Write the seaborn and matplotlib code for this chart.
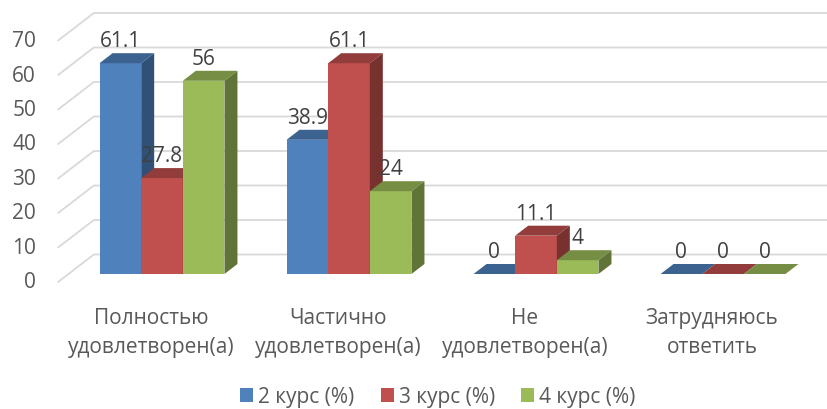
import numpy as np
import pandas as pd
import seaborn as sns
import matplotlib.pyplot as plt
from matplotlib.patches import Polygon, Patch
from matplotlib.transforms import offset_copy

# DATA
categories = ["Полностью\nудовлетворен(а)", "Частично\nудовлетворен(а)",
              "Не\nудовлетворен(а)", "Затрудняюсь\nответить"]
courses = ["2 курс (%)", "3 курс (%)", "4 курс (%)"]
course2 = [61.1, 38.9, 0, 0]
course3 = [27.8, 61.1, 11.1, 0]
course4 = [56, 24, 4, 0]
yticks = [0, 10, 20, 30, 40, 50, 60, 70]
colors = ["#4F81BD", "#C0504D", "#9BBB59"]

df = pd.DataFrame({
    "cat": categories * 3,
    "course": [c for c in courses for _ in categories],
    "val": course2 + course3 + course4,
})

sns.set_theme(style="white")
plt.rcParams['font.family'] = ['Open Sans', 'DejaVu Sans']
FS = 15

fig = plt.figure(figsize=(8.28, 4.10), dpi=100)
ax = fig.add_axes([68.5 / 828, (410 - 275) / 410, 748 / 828, 241.5 / 410])

sns.barplot(data=df, x="cat", y="val", hue="course", order=categories, hue_order=courses,
            palette=colors, saturation=1, width=0.668, ax=ax, legend=False)
ax.set_xlim(-0.5, 3.5)
ax.set_ylim(0, 70)
ax.axis('off')

# pixel -> data scale, for the fake 3D depth
p0 = ax.transData.transform((0, 0))
p1 = ax.transData.transform((1, 1))
sx, sy = p1 - p0


def depth(t):
    return 1.3 * t / sx, t / sy


def shade(c, f):
    r, g, b = plt.matplotlib.colors.to_rgb(c)
    return (r * f, g * f, b * f)


# GRIDLINES: left wall + back wall
fdx, fdy = depth(-8)
bdx, bdy = depth(19.5)
for v in yticks:
    ax.plot([-0.5 + fdx, -0.5 + bdx, 3.6], [v + fdy, v + bdy, v + bdy],
            color='#d9d9d9', lw=1.3, zorder=1, clip_on=False)
    ax.text(-0.5 + fdx, v + fdy, str(v), ha='right', va='center', fontsize=FS, color='#595959',
            transform=offset_copy(ax.transData, fig, x=-22, y=0, units='dots'))

# 3D FACES
ddx, ddy = depth(10)
bars = sorted(ax.patches, key=lambda p: p.get_x())
for i, p in enumerate(bars):
    x0, w, h = p.get_x(), p.get_width(), p.get_height()
    fc = p.get_facecolor()
    p.set_zorder(3 + i)
    p.set_edgecolor('none')
    top = Polygon([(x0, h), (x0 + w, h), (x0 + w + ddx, h + ddy), (x0 + ddx, h + ddy)],
                  closed=True, facecolor=shade(fc, 0.76), edgecolor='none', zorder=3 + i + 0.3)
    side = Polygon([(x0 + w, 0), (x0 + w + ddx, ddy), (x0 + w + ddx, h + ddy), (x0 + w, h)],
                   closed=True, facecolor=shade(fc, 0.62), edgecolor='none', zorder=3 + i + 0.3)
    ax.add_patch(top)
    ax.add_patch(side)
    ax.text(x0 + w / 2, h, f"{h:g}", ha='center', va='baseline', fontsize=FS, color='#404040',
            zorder=50, transform=offset_copy(ax.transData, fig, x=0, y=17, units='dots'))

# CATEGORY LABELS (front plane)
for i, c in enumerate(categories):
    ax.text(i, 0, c, ha='center', va='center', fontsize=FS, color='#595959', linespacing=1.5,
            transform=offset_copy(ax.transData, fig, x=-11, y=-58, units='dots'))

handles = [Patch(facecolor=c, edgecolor='none') for c in colors]
fig.legend(handles, courses, loc='center', bbox_to_anchor=(438 / 828, 1 - 398 / 410), ncol=3,
           frameon=False, fontsize=FS, handlelength=0.62, handleheight=0.62,
           handletextpad=0.25, columnspacing=1.25, labelcolor='#595959', borderpad=0)

fig.savefig("out.png", dpi=100, facecolor='white')
